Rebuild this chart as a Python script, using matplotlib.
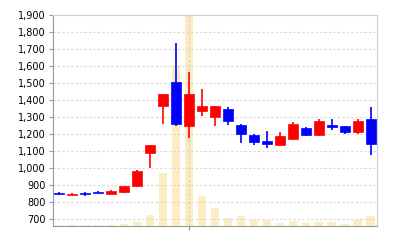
import numpy as np
import matplotlib
matplotlib.use('Agg')
from matplotlib import pyplot as plt
from matplotlib.ticker import FuncFormatter

# daily prices (open, high, low, close)
opens  = [853, 840, 853, 860, 845, 860, 890, 1085, 1366, 1504, 1245, 1335, 1298,
          1346, 1254, 1195, 1160, 1135, 1172, 1236, 1192, 1253, 1246, 1210, 1286]
highs  = [857, 853, 860, 866, 872, 895, 985, 1134, 1435, 1735, 1565, 1465, 1366,
          1360, 1256, 1197, 1217, 1210, 1272, 1242, 1287, 1290, 1248, 1288, 1357]
lows   = [838, 838, 836, 849, 843, 853, 886, 1000, 1260, 1245, 1175, 1303, 1248,
          1252, 1145, 1137, 1115, 1133, 1163, 1188, 1190, 1220, 1198, 1198, 1075]
closes = [843, 846, 843, 852, 862, 893, 983, 1132, 1433, 1255, 1433, 1365, 1362,
          1276, 1200, 1152, 1143, 1187, 1256, 1195, 1274, 1240, 1210, 1274, 1142]
volumes = [1300, 700, 1000, 1000, 1000, 2000, 3700, 11300, 52700, 160000, 260000,
           30000, 18300, 7700, 10000, 6300, 6300, 3000, 5300, 2700, 4300, 3700,
           2300, 6000, 10000]

x = np.arange(len(opens))

fig = plt.figure(figsize=(4, 2.4), dpi=100)
ax2 = fig.add_axes([0.1325, 0.0583, 0.81, 0.8792])
ax = fig.add_axes([0.1325, 0.0583, 0.81, 0.8792], sharex=ax2)
ax.patch.set_visible(False)

# volume bars behind
ax2.bar(x, volumes, width=0.64, color='#fdebc4', zorder=1)
ax2.set_ylim(0, 211000)
ax2.set_yticks([])
ax2.set_xlim(-0.5, len(opens) - 0.5)
for s in ax2.spines.values():
    s.set_visible(False)
ax2.set_xticks([10])
ax2.tick_params(axis='x', length=3, color='#999999', labelbottom=False)
ax2.grid(axis='x', color='#cccccc', linestyle=(0, (2, 2)), linewidth=0.8)

# candles
for i in x:
    o, h, l, c = opens[i], highs[i], lows[i], closes[i]
    col = '#ff0000' if c >= o else '#0000ff'
    ax.vlines(i, l, h, color=col, linewidth=1.2, zorder=3)
    ax.bar(i, abs(c - o), bottom=min(o, c), width=0.77, color=col,
           edgecolor=col, linewidth=0.5, zorder=4)

ax.set_ylim(657, 1900)
ax.set_yticks(np.arange(700, 1901, 100))
ax.yaxis.set_major_formatter(FuncFormatter(lambda v, p: '{:,}'.format(int(v))))
ax.tick_params(axis='y', labelsize=7, length=3, color='#999999', pad=2)
ax.tick_params(axis='x', bottom=False, labelbottom=False)
ax.grid(axis='y', color='#d8d8d8', linestyle=(0, (2, 2)), linewidth=0.8)
ax.set_axisbelow(True)

ax.spines['left'].set_color('#999999')
ax.spines['bottom'].set_color('#999999')
ax.spines['top'].set_color('#cccccc')
ax.spines['right'].set_color('#cccccc')

plt.savefig('out.png', dpi=100)
